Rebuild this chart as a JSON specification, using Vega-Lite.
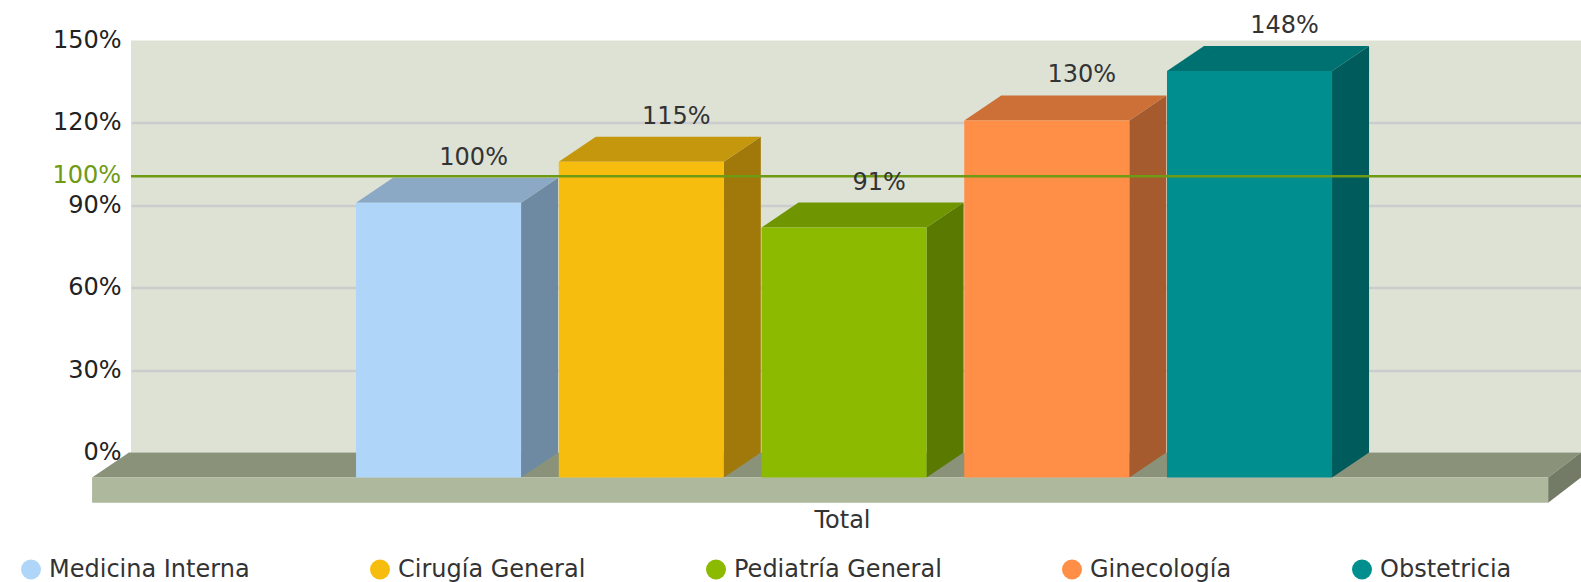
{
"$schema":"https://vega.github.io/schema/vega-lite/v6.json",
"width":1450,"height":412,
"autosize":{"type":"none"},
"padding":{"left":131,"top":40.5,"right":0,"bottom":129.5},
"background":"white",
"view":{"fill":"#dde2d5","stroke":null},
"title":{"text":"de servicios finales","font":"DejaVu Sans","fontWeight":"bold","fontSize":24,"color":"#111","anchor":"middle","frame":"group","dx":5,"offset":8,"baseline":"bottom"},
"config":{"font":"DejaVu Sans"},
"data":{"values":[
{"servicio":"Medicina Interna","orden":0,"valor":100},
{"servicio":"Cirugía General","orden":1,"valor":115},
{"servicio":"Pediatría General","orden":2,"valor":91},
{"servicio":"Ginecología","orden":3,"valor":130},
{"servicio":"Obstetricia","orden":4,"valor":148}
]},
"resolve":{"scale":{"color":"independent"}},
"layer":[
{"data":{"values":[{"t":0},{"t":1},{"t":2},{"t":3}]},
 "transform":[
  {"calculate":"[-1.302,-1.12,5.88,6.042][datum.t]","as":"px"},
  {"calculate":"[-9.1,0,0,0][datum.t]","as":"py"},
  {"calculate":"[-9.1,-9.1,-9.1,0][datum.t]","as":"py2"}],
 "mark":{"type":"area","color":"#8a937a","clip":false},
 "encoding":{
  "x":{"field":"px","type":"quantitative","scale":{"domain":[-1.11,6.042],"nice":false,"zero":false},
    "axis":{"title":"Total","titleFont":"DejaVu Sans","titleFontSize":24,"titleFontWeight":"normal","titleColor":"#333","titleX":711,"titleY":68,"titleBaseline":"middle","titleAnchor":"middle","labels":false,"ticks":false,"domain":false,"grid":false}},
  "y":{"field":"py","type":"quantitative","scale":{"domain":[0,150],"nice":false},
    "axis":{"title":null,"values":[0,30,60,90,120,150],"labelExpr":"datum.value + '%'","labelFont":"DejaVu Sans","labelFontSize":24,"labelColor":"#222","labelPadding":10,"ticks":false,"domain":false,"grid":true,"gridColor":"#cccccc","gridWidth":2.5,"gridOpacity":{"expr":"datum.value>0 && datum.value<150 ? 1 : 0"}}},
  "y2":{"field":"py2"}}},
{"data":{"values":[{"t":0},{"t":1}]},
 "transform":[
  {"calculate":"5.88+datum.t*0.162","as":"px"},
  {"calculate":"-9.1+datum.t*9.1","as":"py"},
  {"calculate":"-18.3+datum.t*9.2","as":"py2"}],
 "mark":{"type":"area","color":"#737b66"},
 "encoding":{"x":{"field":"px","type":"quantitative"},"y":{"field":"py","type":"quantitative"},"y2":{"field":"py2"}}},
{"data":{"values":[{"piso":"frente"}]},
 "mark":{"type":"rect","color":"#adb89c"},
 "encoding":{"x":{"datum":-1.302,"type":"quantitative"},"x2":{"datum":5.88},"y":{"datum":-9.1,"type":"quantitative"},"y2":{"datum":-18.3}}},
{"transform":[
  {"calculate":"[0,1]","as":"t"},{"flatten":["t"]},
  {"calculate":"datum.orden+0.814+datum.t*0.1825","as":"px"},
  {"calculate":"datum.valor-9.1+datum.t*9.1","as":"py"},
  {"calculate":"-9.1+datum.t*9.1","as":"py2"}],
 "mark":{"type":"area"},
 "encoding":{"x":{"field":"px","type":"quantitative"},"y":{"field":"py","type":"quantitative"},"y2":{"field":"py2"},
  "color":{"field":"servicio","type":"nominal","legend":null,"scale":{"domain":["Medicina Interna","Cirugía General","Pediatría General","Ginecología","Obstetricia"],"range":["#6e8aa2","#a0790a","#5a7900","#a55b2d","#005c5c"]}}}},
{"transform":[
  {"calculate":"[0,1,2,3]","as":"t"},{"flatten":["t"]},
  {"calculate":"datum.orden+[0,0.1825,0.814,0.9965][datum.t]","as":"px"},
  {"calculate":"datum.valor-[9.1,0,0,0][datum.t]","as":"py"},
  {"calculate":"datum.valor-[9.1,9.1,9.1,0][datum.t]","as":"py2"}],
 "mark":{"type":"area"},
 "encoding":{"x":{"field":"px","type":"quantitative"},"y":{"field":"py","type":"quantitative"},"y2":{"field":"py2"},
  "color":{"field":"servicio","type":"nominal","legend":null,"scale":{"domain":["Medicina Interna","Cirugía General","Pediatría General","Ginecología","Obstetricia"],"range":["#8ba9c4","#c4970c","#6f9500","#cc7038","#007171"]}}}},
{"transform":[
  {"calculate":"datum.orden+0.814","as":"px2"},
  {"calculate":"datum.valor-9.1","as":"py"},
  {"calculate":"-9.1","as":"py2"}],
 "mark":{"type":"rect"},
 "encoding":{"x":{"field":"orden","type":"quantitative"},"x2":{"field":"px2"},"y":{"field":"py","type":"quantitative"},"y2":{"field":"py2"},
  "color":{"field":"servicio","type":"nominal","scale":{"domain":["Medicina Interna","Cirugía General","Pediatría General","Ginecología","Obstetricia"],"range":["#afd6f8","#f6bd0f","#8bba00","#ff8e46","#008e8e"]},
   "legend":{"title":null,"orient":"none","legendX":-112,"legendY":517,"direction":"horizontal","columns":5,"gridAlign":"none","symbolType":"circle","symbolSize":400,"symbolStrokeWidth":0,"labelFont":"DejaVu Sans","labelFontSize":24,"labelColor":"#333","labelOffset":6,"labelLimit":400,"columnPadding":118}}}},
{"data":{"values":[{"referencia":100.6}]},
 "mark":{"type":"rule","color":"#6e9a14","strokeWidth":2.5},
 "encoding":{"y":{"field":"referencia","type":"quantitative"}}},
{"data":{"values":[{"referencia":100.6,"etiqueta":"100%","inicio":-1.11}]},
 "mark":{"type":"text","align":"right","dx":-10,"font":"DejaVu Sans","fontSize":24,"color":"#6e9a14"},
 "encoding":{"x":{"field":"inicio","type":"quantitative"},"y":{"field":"referencia","type":"quantitative"},"text":{"field":"etiqueta"}}},
{"transform":[
  {"calculate":"datum.orden+0.58","as":"px"},
  {"calculate":"datum.valor+'%'","as":"etiqueta"}],
 "mark":{"type":"text","align":"center","baseline":"middle","dy":-20,"font":"DejaVu Sans","fontSize":24,"color":"#333"},
 "encoding":{"x":{"field":"px","type":"quantitative"},"y":{"field":"valor","type":"quantitative"},"text":{"field":"etiqueta"}}}
]
}
